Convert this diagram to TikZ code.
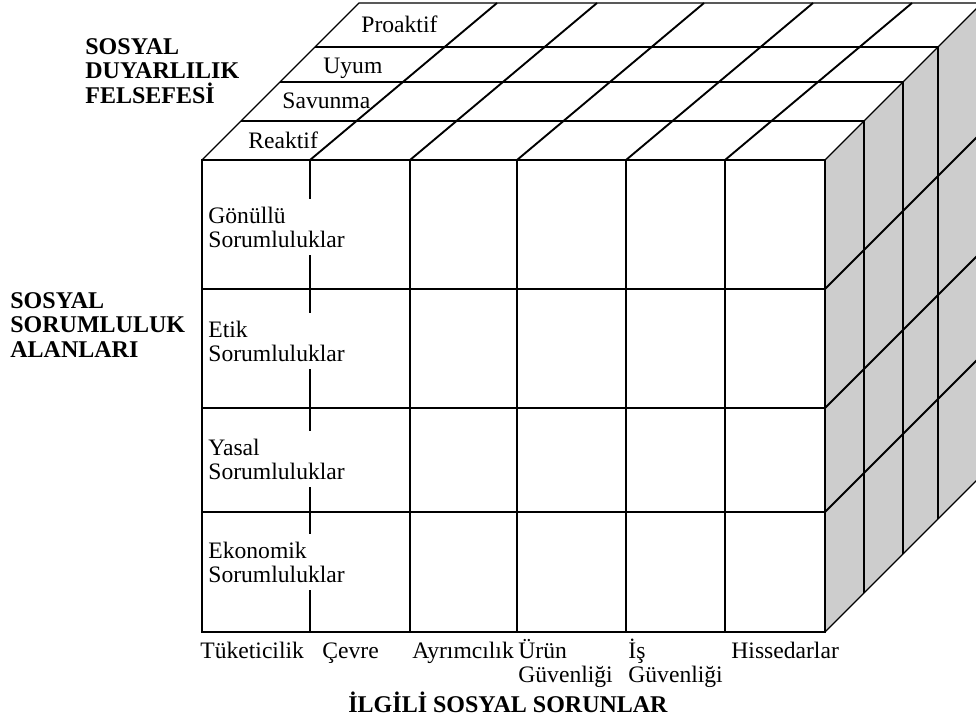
\documentclass[tikz,border=0pt]{standalone}
\usepackage{fontspec}
\setmainfont{Liberation Serif}
\definecolor{SideGray}{HTML}{CDCDCD}
\tikzset{
  edge/.style={draw=black, line width=0.55pt},
  grid/.style={draw=black, line width=0.95pt},
  lbl/.style={font=\fontsize{11.8}{12}\selectfont, inner sep=0pt, align=left},
  cell/.style={lbl, fill=white, inner xsep=1.5pt, inner ysep=4pt},
  head/.style={font=\fontsize{12}{12.2}\selectfont\bfseries, inner sep=0pt, align=left}
}

\begin{document}
\begin{tikzpicture}[x=0.5pt, y=-0.5pt]
\clip (0,0) rectangle (976,720);
% corners of the cube
\coordinate (ftl) at (202,160);
\coordinate (ftr) at (825,160);
\coordinate (fbr) at (825,632);
\coordinate (fbl) at (202,632);
\coordinate (btl) at (359,3);
\coordinate (btr) at (982,3);
\coordinate (bbr) at (982,475);
% right face
\fill[SideGray] (ftr) -- (btr) -- (bbr) -- (fbr) -- cycle;
\fill[white] (ftl) rectangle (fbr);
% top face
\foreach \d in {39,78,113}
  \draw[grid] (202+\d,160-\d) -- (825+\d,160-\d);
\foreach \x in {310,410,517,626,725}
  \draw[grid] (\x,160) -- (\x+187,3);
% right face
\foreach \d in {39,78,113}
  \draw[grid] (825+\d,160-\d) -- (825+\d,632-\d);
\foreach \y in {289,408,512}
  \draw[grid] (825,\y) -- (982,\y-157);
% front face
\foreach \x in {310,410,517,626,725}
  \draw[grid] (\x,160) -- (\x,632);
\foreach \y in {289,408,512}
  \draw[grid] (202,\y) -- (825,\y);
% outline
\draw[edge] (ftl) rectangle (fbr);
\draw[edge] (ftl) -- (btl) -- (btr);
\draw[edge] (ftr) -- (btr);
\draw[edge] (fbr) -- (bbr);

% depth labels
\node[lbl, anchor=base west] (proaktif) at (361,32) {Proaktif};
\node[lbl, anchor=base west] (uyum) at (323,73) {Uyum};
\node[lbl, anchor=base west] (savunma) at (282,108) {Savunma};
\node[lbl, anchor=base west] (reaktif) at (248,148) {Reaktif};

% row labels (base = last line)
\node[cell, anchor=base west] (gonullu) at (205,247) {Gönüllü\\Sorumluluklar};
\node[cell, anchor=base west] (etik) at (205,361) {Etik\\Sorumluluklar};
\node[cell, anchor=base west] (yasal) at (205,479) {Yasal\\Sorumluluklar};
\node[cell, anchor=base west] (ekonomik) at (205,582) {Ekonomik\\Sorumluluklar};

% column labels
\node[lbl, anchor=base west] (tuketici) at (200,658) {Tüketicilik};
\node[lbl, anchor=base west] (cevre) at (322,658) {Çevre};
\node[lbl, anchor=base west] (ayrim) at (412,658) {Ayrımcılık};
\node[lbl, anchor=base west] (urun) at (518,682) {Ürün\\Güvenliği};
\node[lbl, anchor=base west] (isguv) at (628,682) {İş\\Güvenliği};
\node[lbl, anchor=base west] (hisse) at (731,658) {Hissedarlar};

% axis titles
\node[head, anchor=base west] (felsefe) at (85,103) {SOSYAL\\DUYARLILIK\\FELSEFESİ};
\node[head, anchor=base west] (alanlar) at (10,357) {SOSYAL\\SORUMLULUK\\ALANLARI};
\node[head, anchor=base west] (sorunlar) at (348,712) {İLGİLİ SOSYAL SORUNLAR};
\end{tikzpicture}
\end{document}
